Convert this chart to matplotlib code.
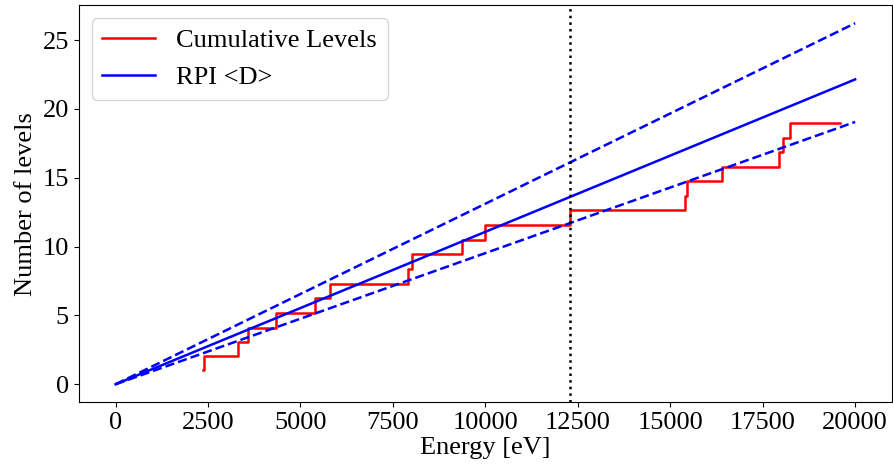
import matplotlib.pyplot as plt

plt.rcParams["font.family"] = ["Liberation Serif", "DejaVu Serif"]

# cumulative level staircase (energy in eV, cumulative value)
level_energy = [2373, 2380, 3298, 3587, 4333, 5394, 5798, 7910, 8018, 9367,
                9987, 12298, 15399, 15453, 16405, 17934, 18050, 18249, 19579]
level_count = [1.05, 2.05, 3.08, 4.12, 5.18, 6.24, 7.3, 8.38, 9.44, 10.5,
               11.56, 12.64, 13.66, 14.74, 15.8, 16.86, 17.92, 18.98, 18.98]

# RPI average spacing lines
rpi_energy = [0, 20000]
rpi_mean = [0, 22.14]
rpi_upper = [0, 26.22]
rpi_lower = [0, 19.05]

cutoff = 12300

fig = plt.figure(figsize=(8.93, 4.70), dpi=100)
ax = fig.add_axes([0.088, 0.144, 0.911, 0.845])

ax.plot(level_energy, level_count, color="red", lw=1.8, drawstyle="steps-post",
        label="Cumulative Levels")
ax.plot(rpi_energy, rpi_mean, color="blue", lw=1.8, label="RPI <D>")
ax.plot(rpi_energy, rpi_upper, color="blue", lw=1.8, ls="--")
ax.plot(rpi_energy, rpi_lower, color="blue", lw=1.8, ls="--")
ax.axvline(cutoff, color="black", ls=":", lw=1.8)

ax.set_xticks([0, 2500, 5000, 7500, 10000, 12500, 15000, 17500, 20000])
ax.set_yticks([0, 5, 10, 15, 20, 25])
ax.tick_params(labelsize=19)
ax.set_xlabel("Energy [eV]", fontsize=19, labelpad=2)
ax.set_ylabel("Number of levels", fontsize=19)
ax.legend(loc="upper left", fontsize=19)

fig.savefig("out.png", dpi=100)
